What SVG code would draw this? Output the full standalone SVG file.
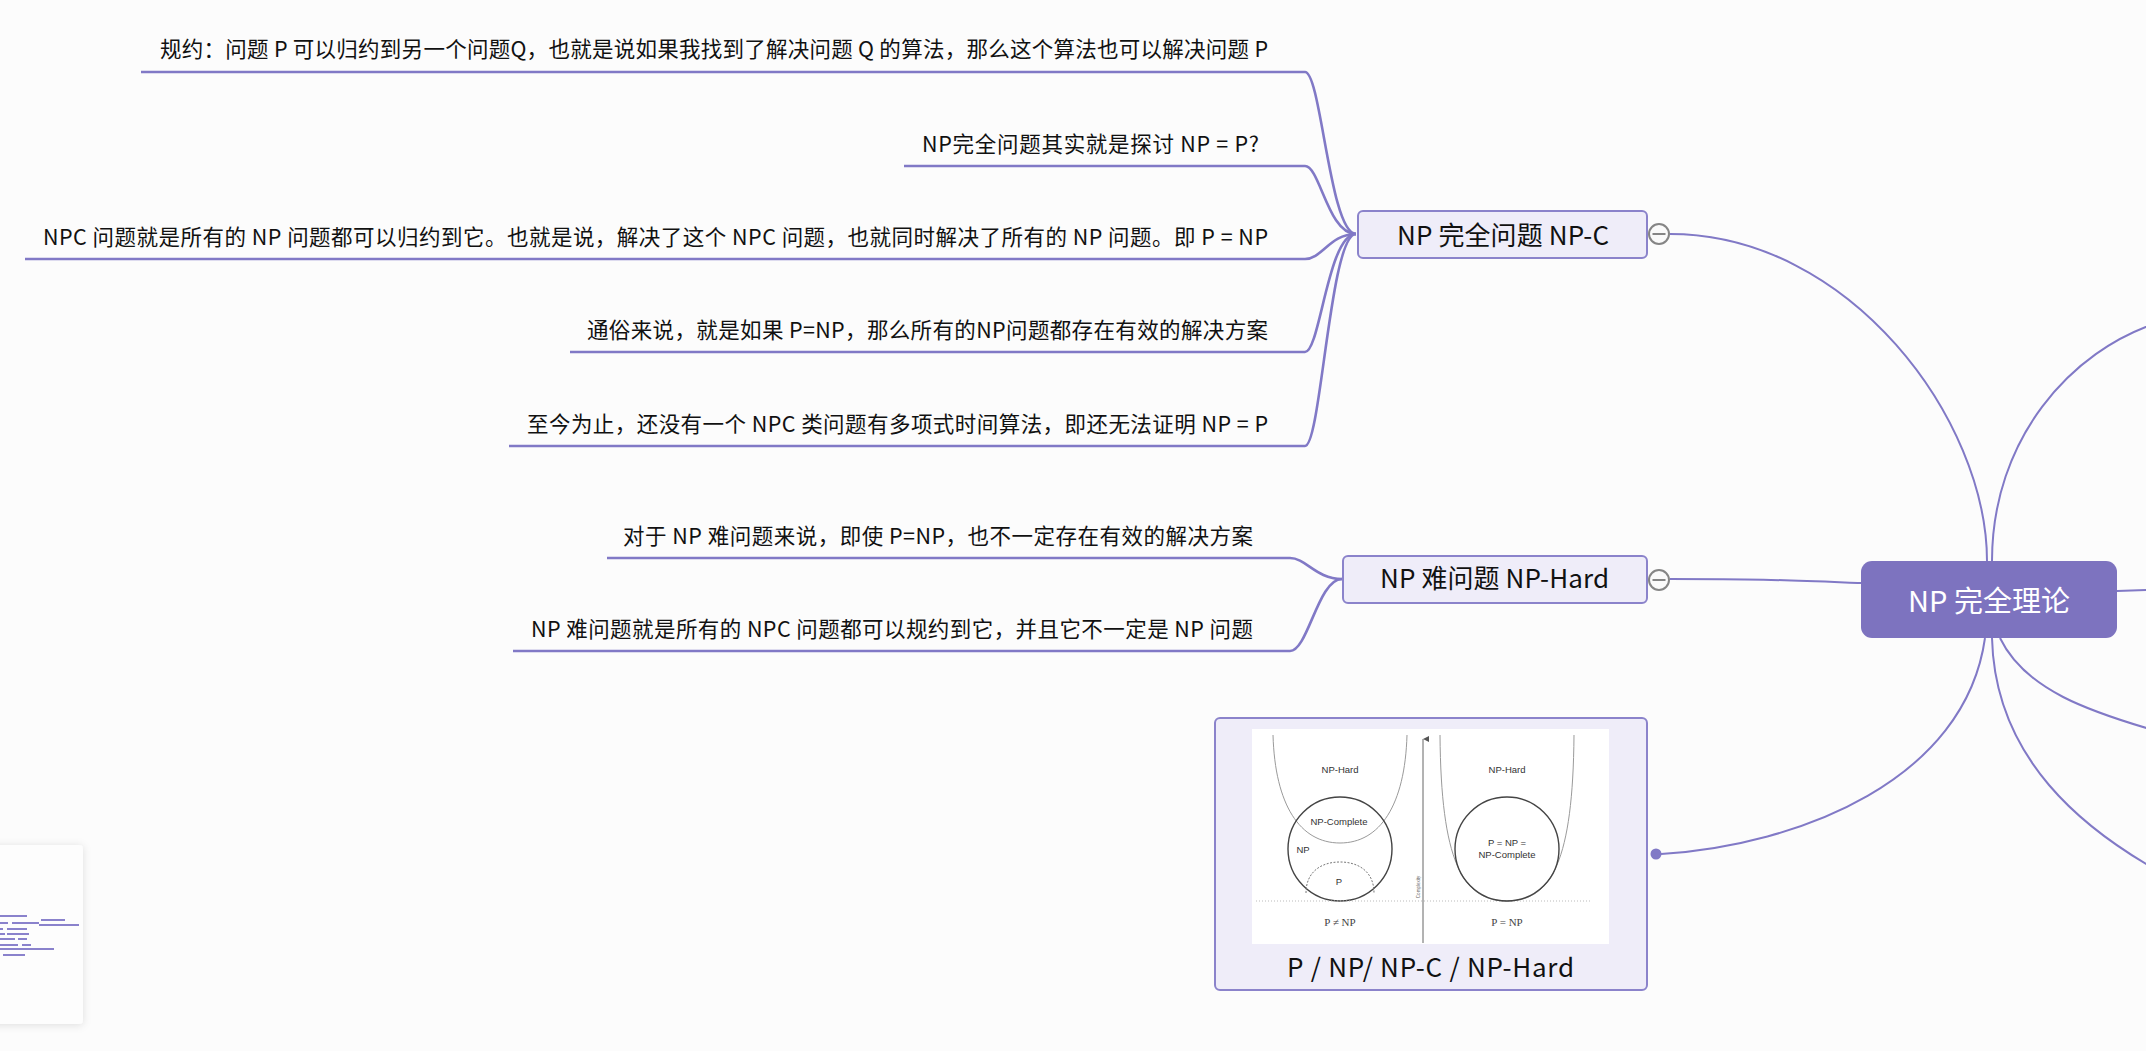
<svg xmlns="http://www.w3.org/2000/svg" width="2146" height="1051" viewBox="0 0 2146 1051">
<defs>
<style>
.bg{fill:#fcfcfc}
.ln{fill:none;stroke:#8179c6;stroke-width:2}
.ul{fill:none;stroke:#8179c6;stroke-width:2.6}
.t{font-family:"Segoe UI","Noto Sans CJK SC","Noto Sans",sans-serif;font-size:21.5px;fill:#111}
.nt{font-family:"Segoe UI","Noto Sans CJK SC","Noto Sans",sans-serif;font-size:26px;fill:#111}
.rt{font-family:"Segoe UI","Noto Sans CJK SC","Noto Sans",sans-serif;font-size:29px;fill:#fff}
.box{fill:#efedf9;stroke:#8b83cb;stroke-width:2}
.col{fill:#fafafa;stroke:#858585;stroke-width:2}
.il{font-family:"Liberation Sans","DejaVu Sans",sans-serif;font-size:9.5px;fill:#333;text-anchor:middle}
.is{font-family:"Liberation Serif",serif;font-size:11px;fill:#444;text-anchor:middle}
.mm{stroke:#8a82cc;stroke-width:2.2;fill:none}
</style>
<filter id="sh" x="-30%" y="-30%" width="160%" height="160%">
<feDropShadow dx="0" dy="1" stdDeviation="4" flood-color="#000" flood-opacity="0.12"/>
</filter>
<marker id="ax" viewBox="0 0 6 6" refX="3" refY="0" markerWidth="6" markerHeight="6" orient="auto-start-reverse">
<path d="M0,6 L3,0 L6,6 Z" fill="#555"/>
</marker>
</defs>
<rect class="bg" x="0" y="0" width="2146" height="1051"/>

<g id="connectors">
<!-- NP-C fan -->
<path class="ul" d="M141 72 H1305 C1321 72 1330 234 1356 234"/>
<path class="ul" d="M904 166 H1305 C1320 166 1328 234 1356 234"/>
<path class="ul" d="M25 259 H1305 C1322 259 1330 234 1356 234"/>
<path class="ul" d="M570 352 H1305 C1320 352 1328 234 1356 234"/>
<path class="ul" d="M509 446 H1305 C1321 446 1330 234 1356 234"/>
<!-- NP-Hard fan -->
<path class="ul" d="M607 558 H1290 C1306 558 1316 579 1342 579"/>
<path class="ul" d="M513 651 H1290 C1308 651 1318 579 1342 579"/>
<!-- root connectors -->
<path class="ln" d="M1987 561 C1987 420 1850 234 1670 234"/>
<path class="ln" d="M1861 583 C1780 580 1760 579 1670 579"/>
<path class="ln" d="M1985 638 C1965 780 1800 845 1661 854"/>
<path class="ln" d="M1992 561 C1992 440 2070 350 2160 322"/>
<path class="ln" d="M2117 591 L2150 590"/>
<path class="ln" d="M2000 638 C2025 690 2090 712 2160 732"/>
<path class="ln" d="M1992 638 C1995 760 2085 830 2160 872"/>
<circle cx="1656" cy="854" r="5.5" fill="#8179c6"/>
</g>

<g id="leaf-1"><text class="t" x="160" y="57" textLength="1108">规约：问题 P 可以归约到另一个问题Q，也就是说如果我找到了解决问题 Q 的算法，那么这个算法也可以解决问题 P</text></g>
<g id="leaf-2"><text class="t" x="922" y="152" textLength="337">NP完全问题其实就是探讨 NP = P?</text></g>
<g id="leaf-3"><text class="t" x="43" y="245" textLength="1225">NPC 问题就是所有的 NP 问题都可以归约到它。也就是说，解决了这个 NPC 问题，也就同时解决了所有的 NP 问题。即 P = NP</text></g>
<g id="leaf-4"><text class="t" x="587" y="338" textLength="681">通俗来说，就是如果 P=NP，那么所有的NP问题都存在有效的解决方案</text></g>
<g id="leaf-5"><text class="t" x="527" y="432" textLength="741">至今为止，还没有一个 NPC 类问题有多项式时间算法，即还无法证明 NP = P</text></g>
<g id="leaf-6"><text class="t" x="623" y="544" textLength="630">对于 NP 难问题来说，即使 P=NP，也不一定存在有效的解决方案</text></g>
<g id="leaf-7"><text class="t" x="531" y="637" textLength="722">NP 难问题就是所有的 NPC 问题都可以规约到它，并且它不一定是 NP 问题</text></g>

<g id="node-npc">
<rect class="box" x="1358" y="211" width="289" height="47" rx="5"/>
<text class="nt" x="1397" y="245" textLength="212">NP 完全问题 NP-C</text>
<circle class="col" cx="1659" cy="234" r="10"/>
<line x1="1652.5" y1="234" x2="1665.5" y2="234" stroke="#858585" stroke-width="2"/>
</g>

<g id="node-nphard">
<rect class="box" x="1343" y="556" width="304" height="47" rx="5"/>
<text class="nt" x="1380" y="588" textLength="229">NP 难问题 NP-Hard</text>
<circle class="col" cx="1659" cy="580" r="10"/>
<line x1="1652.5" y1="580" x2="1665.5" y2="580" stroke="#858585" stroke-width="2"/>
</g>

<g id="node-root">
<rect x="1861" y="561" width="256" height="77" rx="11" fill="#7d73bf"/>
<text class="rt" x="1908" y="612" textLength="162">NP 完全理论</text>
</g>

<g id="node-image">
<rect class="box" x="1215" y="718" width="432" height="272" rx="5"/>
<rect x="1252" y="729" width="357" height="215" fill="#ffffff"/>
<!-- left panel -->
<path d="M1273 735 C1275 805 1300 843 1340 843 C1380 843 1405 805 1407 735" fill="none" stroke="#9a9a9a" stroke-width="1"/>
<circle cx="1340" cy="849" r="52" fill="none" stroke="#444" stroke-width="1.4"/>
<path d="M1306 893 C1306 872 1321 862 1340 862 C1359 862 1374 872 1374 893" fill="none" stroke="#777" stroke-width="1" stroke-dasharray="2 1.5"/>
<text class="il" x="1340" y="773">NP-Hard</text>
<text class="il" x="1339" y="825">NP-Complete</text>
<text class="il" x="1303" y="853">NP</text>
<text class="il" x="1339" y="885">P</text>
<line x1="1256" y1="901" x2="1591" y2="901" stroke="#bbb" stroke-width="1" stroke-dasharray="1 2"/>
<text class="is" x="1340" y="926">P ≠ NP</text>
<!-- axis -->
<line x1="1423" y1="943" x2="1423" y2="739" stroke="#666" stroke-width="1" marker-end="url(#ax)"/>
<text font-family="Liberation Sans, sans-serif" font-size="4.5" fill="#666" text-anchor="middle" transform="translate(1420 887) rotate(-90)">Complexity</text>
<!-- right panel -->
<path d="M1440 735 C1441 860 1462 901 1507 901 C1552 901 1573 860 1574 735" fill="none" stroke="#9a9a9a" stroke-width="1"/>
<circle cx="1507" cy="849" r="52" fill="none" stroke="#444" stroke-width="1.4"/>
<text class="il" x="1507" y="773">NP-Hard</text>
<text class="il" x="1507" y="846">P = NP =</text>
<text class="il" x="1507" y="858">NP-Complete</text>
<text class="is" x="1507" y="926">P = NP</text>
<text class="nt" x="1287" y="977" textLength="287">P / NP/ NP-C / NP-Hard</text>
</g>

<g id="minimap">
<rect x="-10" y="845" width="93" height="179" rx="4" fill="#fdfdfd" filter="url(#sh)"/>
<path class="mm" d="M0 916 H27 M0 923 H8 M12 923 H39 M41 920 H65 M39 925 H79 M0 929 H3 M7 929 H27 M0 934 H5 M7 934 H29 M0 939 H15 M18 939 H27 M0 945 H18 M22 945 H31 M0 949 H54 M3 955 H25"/>
</g>
</svg>
